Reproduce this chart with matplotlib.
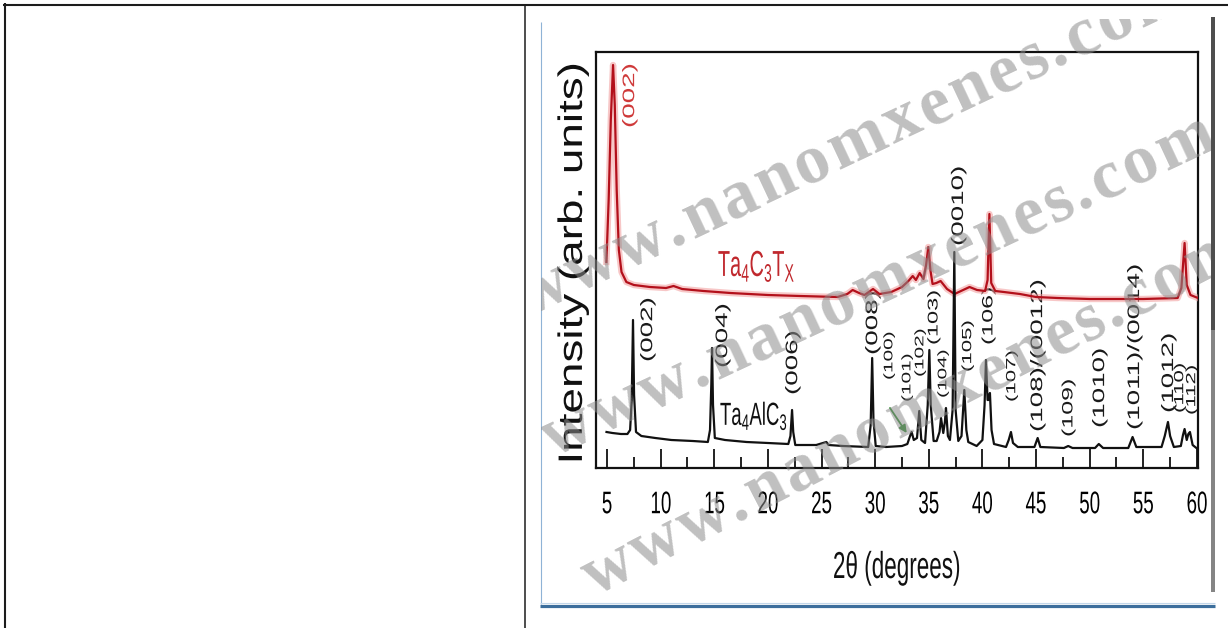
import numpy as np
import matplotlib
matplotlib.use("Agg")
import matplotlib.pyplot as plt
import matplotlib.patheffects as pe
from matplotlib.transforms import Affine2D, Bbox
from matplotlib.lines import Line2D
from matplotlib.patches import Rectangle
from matplotlib.font_manager import FontProperties, findfont, get_font

plt.rcParams["font.family"] = ["Liberation Sans", "DejaVu Sans"]
plt.rcParams["mathtext.fontset"] = "custom"
plt.rcParams["mathtext.rm"] = "Liberation Sans"
plt.rcParams["mathtext.it"] = "Liberation Sans:italic"
plt.rcParams["mathtext.bf"] = "Liberation Sans:bold"

# ---------------------------------------------------------------- data
# Ta4AlC3 (MAX phase) pattern: 2theta (deg) and intensity (arb. units)
tt_max = [4.95, 5.5, 6.3, 6.9, 7.15, 7.3, 7.42, 7.52, 7.7, 8.2, 9.5, 11.0, 13.0,
          14.4, 14.6, 14.72, 14.79, 14.88, 15.05, 16.0, 18.0, 20.0, 21.9, 22.1,
          22.25, 22.36, 22.55, 24.5, 25.45, 25.65, 27.0, 29.35, 29.58, 29.72,
          29.84, 30.05, 31.0, 32.5, 33.0, 33.25, 33.4, 33.6, 33.9, 34.11, 34.3,
          34.65, 34.9, 35.05, 35.18, 35.45, 35.73, 36.0, 36.14, 36.35, 36.5,
          36.6, 36.78, 36.97, 37.22, 37.38, 37.5, 37.75, 38.05, 38.31, 38.5,
          38.68, 39.46, 40.0, 40.2, 40.33, 40.48, 40.56, 40.7, 40.85, 41.08,
          42.2, 42.45, 42.66, 42.85, 43.3, 44.85, 45.15, 45.4, 47.6, 48.0, 48.4,
          50.5, 50.85, 51.25, 53.6, 54.0, 54.35, 56.7, 57.0, 57.3, 57.5, 57.85,
          58.5, 58.7, 58.85, 59.05, 59.2, 59.35, 59.6, 59.95]
int_max = [36, 35, 34, 34, 38, 68, 148, 73, 36, 32, 30, 28, 27,
           26, 38, 83, 120, 63, 30, 28, 26, 25, 24, 32,
           58, 36, 23, 23, 26, 23, 22, 21, 43, 110,
           48, 22, 21, 22, 24, 32, 36, 28, 30, 57, 28,
           25, 63, 118, 63, 27, 27, 36, 50, 35, 46,
           60, 32, 28, 58, 216, 58, 27, 32, 78, 38,
           26, 22, 28, 63, 108, 68, 68, 75, 38, 24,
           21, 28, 36, 25, 21, 21, 30, 21, 20, 22, 20,
           20, 24, 20, 20, 31, 21, 21, 32, 46, 32, 21,
           22, 33, 39, 28, 34, 36, 23, 20]

# Ta4C3Tx (MXene) pattern
tt_mxene = [4.94, 5.15, 5.35, 5.56, 5.72, 5.9, 6.1, 6.35, 6.8, 7.5, 9.0, 10.5,
            11.2, 12.0, 14.0, 16.5, 20.0, 23.0, 26.5, 27.4, 27.9, 28.5, 29.0,
            29.8, 30.4, 31.5, 32.5, 33.1, 33.5, 33.8, 34.15, 34.5, 34.75, 34.95,
            35.15, 35.35, 35.7, 36.1, 36.7, 37.4, 38.0, 38.8, 39.5, 40.25, 40.48,
            40.65, 40.82, 41.2, 42.0, 43.5, 45.0, 47.0, 50.0, 55.0, 58.2, 58.55,
            58.85, 59.05, 59.4, 60.1]
int_mxene = [206, 268, 348, 403, 363, 278, 218, 196, 186, 183, 181, 180,
             182, 179, 177, 175, 173, 172, 171, 174, 178, 175, 173,
             179, 174, 176, 181, 187, 192, 188, 195, 189, 203, 221,
             198, 184, 185, 187, 179, 174, 177, 181, 178, 177, 188,
             254, 185, 177, 176, 174, 171, 170, 169, 169, 170, 180,
             225, 183, 173, 170]

xtick_values = [5, 10, 15, 20, 25, 30, 35, 40, 45, 50, 55, 60]

# reflection indices of Ta4AlC3
hkl_text = ["(002)", "(004)", "(006)", "(008)", "(100)", "(101)", "(102)",
            "(103)", "(104)", "(0010)", "(105)", "(106)", "(107)",
            "(108)/(0012)", "(109)", "(1010)", "(1011)/(0014)", "(1012)",
            "(110)", "(112)"]
mxene_hkl = "(002)"

# ---------------------------------------------------------------- layout
hkl_x = [8.82, 15.81, 22.34, 29.80, 31.29, 32.97, 34.18, 35.48, 36.32, 37.80,
         38.65, 40.52, 42.76, 45.18, 47.98, 50.96, 54.22, 57.39, 58.42, 59.54]
hkl_y = [106, 100, 73, 113, 88, 66, 91, 123, 70, 222,
         96, 123, 66, 36, 31, 40, 38, 55, 55, 53]
hkl_size = [20, 20, 20, 20, 15, 15, 15, 17, 15, 20,
            16, 18, 16, 20, 18, 20, 20, 20, 16, 16]

W, H = 1228, 628


class Squeeze(pe.AbstractPathEffect):
    """Draw text narrowed horizontally about its own centre."""

    def __init__(self, sx):
        super().__init__()
        self._sx = sx

    def draw_path(self, renderer, gc, tpath, affine, rgbFace=None):
        ext = tpath.get_extents(affine)
        cx = 0.5 * (ext.x0 + ext.x1)
        narrow = Affine2D().translate(-cx, 0).scale(self._sx, 1).translate(cx, 0)
        renderer.draw_path(gc, tpath, affine + narrow, rgbFace)


def fx(px):
    return px / W


def fy(py):
    return 1 - py / H


fig = plt.figure(figsize=(W / 100, H / 100), dpi=100)
fig.patch.set_facecolor("white")

# ---------------------------------------------------------------- axes
ax = fig.add_axes([fx(596), fy(468), (1198 - 596) / W, (468 - 52) / H])
ax.set_xlim(3.97, 60.1)
ax.set_ylim(0, 416)

ax.plot(tt_mxene, int_mxene, color="#f19a9a", lw=4.6, alpha=0.55,
        solid_joinstyle="round", zorder=3)
ax.plot(tt_mxene, int_mxene, color="#b3101b", lw=1.6,
        solid_joinstyle="round", zorder=3.2)
ax.plot(tt_max, int_max, color="#111111", lw=1.6,
        solid_joinstyle="round", zorder=3.4)

narrow_lbl = [Squeeze(0.6)]
for s, x, y, fs in zip(hkl_text, hkl_x, hkl_y, hkl_size):
    ax.text(x, y, s, rotation=90, ha="center", va="bottom", fontsize=fs,
            color="#1a1a1a", path_effects=narrow_lbl, zorder=2.5)

ax.text(7.14, 340, mxene_hkl, rotation=90, ha="center", va="bottom",
        fontsize=20, color="#cf3a3a", path_effects=narrow_lbl, zorder=2.5)

ax.text(18.95, 192, r"Ta$_4$C$_3$T$_\mathrm{X}$", ha="center", va="baseline",
        fontsize=26, color="#c0282d", path_effects=[Squeeze(0.55)], zorder=4)
ax.text(18.70, 43, r"Ta$_4$AlC$_3$", ha="center", va="baseline",
        fontsize=23, color="#111111", path_effects=[Squeeze(0.58)], zorder=4)

ax.annotate("", xy=(32.94, 35), xytext=(31.38, 60),
            arrowprops=dict(arrowstyle="-|>", color="#2c8c2c", lw=1.3,
                            mutation_scale=11, shrinkA=0, shrinkB=0),
            zorder=4)

ax.set_xticks(xtick_values)
ax.set_xticks(np.arange(7.5, 60, 5), minor=True)
ax.set_yticks([])
ax.tick_params(axis="x", which="major", direction="in", length=13.7,
               width=1.3, labelsize=22.5, pad=16, top=False, color="#111111")
ax.tick_params(axis="x", which="minor", direction="in", length=8,
               width=1.3, top=False, color="#111111")
for lab in ax.get_xticklabels():
    lab.set_path_effects([Squeeze(0.6)])
for sp in ax.spines.values():
    sp.set_linewidth(1.6)
    sp.set_color("#111111")

ax.set_xlabel("2θ (degrees)", fontsize=27, color="#111111")
ax.xaxis.label.set_path_effects([Squeeze(0.6)])
ax.xaxis.label.set_va("center")
ax.xaxis.set_label_coords((897 - 596) / 602, (468 - 568) / 416)

ax.set_ylabel("Intensity (arb. units)", fontsize=33, color="#111111")
ax.yaxis.label.set_path_effects([Squeeze(0.74)])
ax.yaxis.label.set_va("center")
ax.yaxis.label.set_ha("center")
ax.yaxis.set_label_coords((573 - 596) / 602, (468 - 263) / 416)

# ---------------------------------------------------------------- page frame
def hline(y, x0, x1, lw, color):
    fig.add_artist(Line2D([fx(x0), fx(x1)], [fy(y), fy(y)], lw=lw, color=color,
                          transform=fig.transFigure, solid_capstyle="butt"))


def vline(x, y0, y1, lw, color):
    fig.add_artist(Line2D([fx(x), fx(x)], [fy(y0), fy(y1)], lw=lw, color=color,
                          transform=fig.transFigure, solid_capstyle="butt"))


hline(4.5, 3, W, 1.5, "#1c1c1c")
vline(4.5, 3, H, 1.5, "#1c1c1c")
vline(525, 4, H, 1.1, "#1c1c1c")
vline(540.5, 22, 604, 0.8, "#8fb3d6")
hline(602.5, 540, 1215, 0.8, "#c3d7ea")
hline(605.5, 540, 1215, 2.3, "#3c6e9c")
fig.add_artist(Rectangle((fx(1211), fy(330)), 4 / W, (330 - 17) / H,
                         transform=fig.transFigure, color="#4e4e4e", lw=0))
fig.add_artist(Rectangle((fx(1211), fy(592)), 4 / W, (592 - 330) / H,
                         transform=fig.transFigure, color="#858585", lw=0))

# ---------------------------------------------------------------- watermark
WM_SIZE = 50
wm_fp = FontProperties(family=["Liberation Serif", "DejaVu Serif"],
                       weight="bold", size=WM_SIZE)
wm_font = get_font(findfont(wm_fp))
wm_clip = Bbox.from_extents(541, H - 603, 1211, H - 19)


def watermark(text, x0, y0, angle, gap):
    wm_font.set_size(WM_SIZE, fig.dpi)
    ca, sa = np.cos(np.radians(angle)), np.sin(np.radians(angle))
    d = 0.0
    for ch in text:
        t = fig.text(fx(x0 + d * ca), fy(y0 - d * sa), ch, fontproperties=wm_fp,
                     rotation=angle, rotation_mode="anchor", ha="left",
                     va="baseline", color="#8c8c8c", alpha=0.55, zorder=6)
        t.set_clip_box(wm_clip)
        t.set_clip_on(True)
        d += wm_font.load_char(ord(ch)).linearHoriAdvance / 65536 + gap


watermark("www.nanomxenes.com", 528, 316, 25.2, 3.5)
watermark("www.nanomxenes.com", 552, 457, 25.0, 3.5)
watermark("www.nanomxenes.com", 594, 596, 27.3, 3.5)

fig.savefig("out.png", dpi=100)
